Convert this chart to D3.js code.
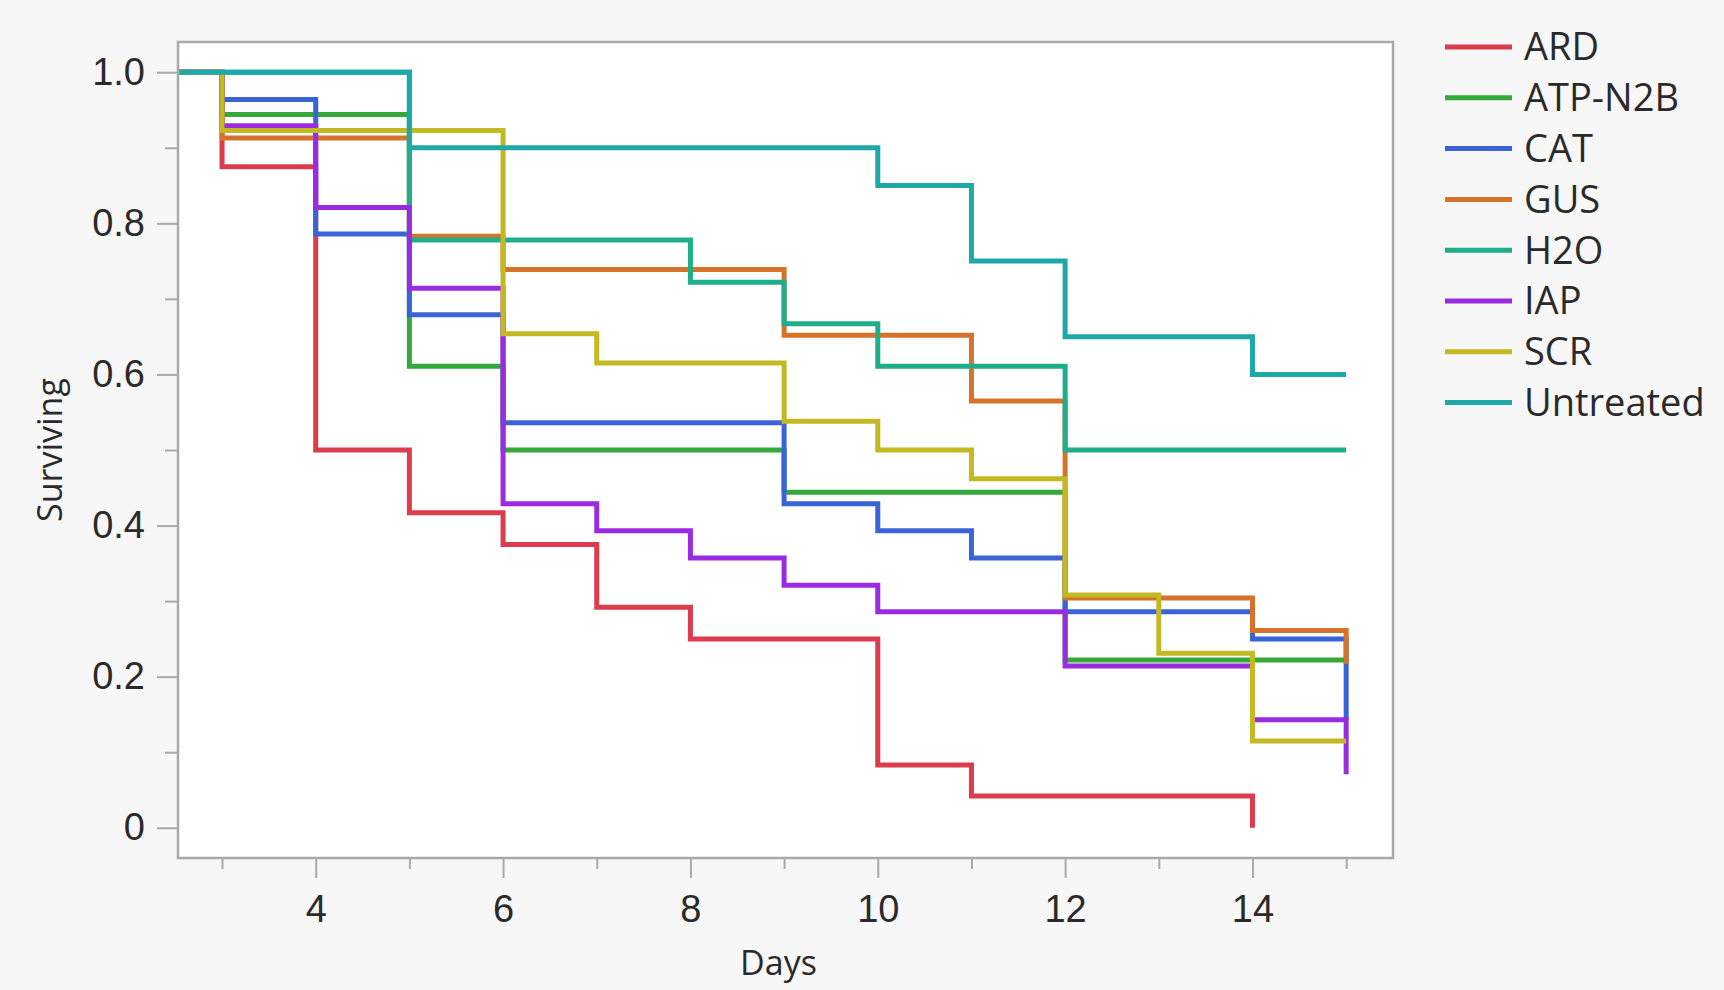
<!DOCTYPE html>
<html>
<head>
<meta charset="utf-8">
<script src="https://cdn.jsdelivr.net/npm/d3@7"></script>
<style>
  body { margin: 0; background: #f7f7f7; }
  svg { display: block; font-family: "Open Sans", "Noto Sans", sans-serif; }
</style>
</head>
<body>
<div id="chart"></div>
<script>
// survival groups, legend order
var groups = ["ARD", "ATP-N2B", "CAT", "GUS", "H2O", "IAP", "SCR", "Untreated"];
var colors = ["#dc3d4e", "#35a83a", "#3a63d8", "#d6732a", "#1eae8a", "#9a2be0", "#c2b923", "#1fa8a8"];

// [day, surviving] after each step
var ARD = [[3, 0.875], [4, 0.5], [5, 0.417], [6, 0.375], [7, 0.292], [8, 0.25], [10, 0.083], [11, 0.042], [14, 0]];
var ATP = [[3, 0.944], [5, 0.611], [6, 0.5], [9, 0.444], [12, 0.222], [15, 0.222]];
var CAT = [[3, 0.964], [4, 0.786], [5, 0.679], [6, 0.536], [9, 0.429], [10, 0.393], [11, 0.357], [12, 0.286], [14, 0.25], [15, 0.143]];
var GUS = [[3, 0.913], [5, 0.783], [6, 0.739], [9, 0.652], [11, 0.565], [12, 0.304], [14, 0.261], [15, 0.217]];
var H2O = [[5, 0.778], [8, 0.722], [9, 0.667], [10, 0.611], [12, 0.5], [15, 0.5]];
var IAP = [[3, 0.929], [4, 0.821], [5, 0.714], [6, 0.429], [7, 0.393], [8, 0.357], [9, 0.321], [10, 0.286], [12, 0.214], [14, 0.143], [15, 0.071]];
var SCR = [[3, 0.923], [6, 0.654], [7, 0.615], [9, 0.538], [10, 0.5], [11, 0.462], [12, 0.308], [13, 0.231], [14, 0.115], [15, 0.115]];
var UNT = [[5, 0.9], [10, 0.85], [11, 0.75], [12, 0.65], [14, 0.6], [15, 0.6]];
var series = [ARD, ATP, CAT, GUS, H2O, IAP, SCR, UNT];

var xMajor = [4, 6, 8, 10, 12, 14];
var xMinor = [3, 5, 7, 9, 11, 13, 15];
var yMajor = [0, 0.2, 0.4, 0.6, 0.8, 1.0];
var yMinor = [0.1, 0.3, 0.5, 0.7, 0.9];

function init() {
  var width = 1724, height = 990;
  var left = 178, right = 1393, top = 42, bottom = 858;

  var svg = d3.select("#chart").append("svg")
    .attr("width", width)
    .attr("height", height);

  var x = d3.scaleLinear().domain([2.53, 15.5]).range([left, right]);
  var y = d3.scaleLinear().domain([-0.04, 1.04]).range([bottom, top]);

  svg.append("rect")
    .attr("x", left).attr("y", top)
    .attr("width", right - left).attr("height", bottom - top)
    .attr("fill", "#fff");

  svg.append("clipPath").attr("id", "plotclip")
    .append("rect")
    .attr("x", left).attr("y", top)
    .attr("width", right - left).attr("height", bottom - top);

  var line = d3.line()
    .x(function(d) { return x(d[0]); })
    .y(function(d) { return y(d[1]); })
    .curve(d3.curveStepAfter);

  var plot = svg.append("g").attr("clip-path", "url(#plotclip)");
  series.forEach(function(s, i) {
    plot.append("path")
      .attr("d", line([[0, 1]].concat(s)))
      .attr("fill", "none")
      .attr("stroke", colors[i])
      .attr("stroke-width", 5)
      .attr("stroke-linejoin", "miter");
  });

  // axes
  var axisColor = "#a9a9a9";
  svg.append("g").attr("transform", "translate(0," + bottom + ")")
    .call(d3.axisBottom(x).tickValues(xMajor).tickSize(20).tickPadding(17).tickFormat(d3.format("d")));
  svg.append("g").attr("transform", "translate(0," + bottom + ")")
    .call(d3.axisBottom(x).tickValues(xMinor).tickSize(11).tickFormat(""));
  svg.append("g").attr("transform", "translate(" + left + ",0)")
    .call(d3.axisLeft(y).tickValues(yMajor).tickSize(21).tickPadding(12)
      .tickFormat(function(d) { return d === 0 ? "0" : d3.format(".1f")(d); }));
  svg.append("g").attr("transform", "translate(" + left + ",0)")
    .call(d3.axisLeft(y).tickValues(yMinor).tickSize(13).tickFormat(""));

  svg.selectAll(".domain").remove();
  svg.selectAll(".tick line").attr("stroke", axisColor).attr("stroke-width", 2);
  svg.selectAll(".tick text").attr("fill", "#2a2a2a").style("font-size", "38px");

  svg.append("rect")
    .attr("x", left).attr("y", top)
    .attr("width", right - left).attr("height", bottom - top)
    .attr("fill", "none")
    .attr("stroke", axisColor)
    .attr("stroke-width", 2.5);

  svg.append("text")
    .attr("x", (left + right) / 2 - 7).attr("y", 975)
    .attr("text-anchor", "middle")
    .attr("fill", "#2a2a2a")
    .style("font-size", "34px")
    .text("Days");

  svg.append("text")
    .attr("transform", "translate(62," + ((top + bottom) / 2) + ") rotate(-90)")
    .attr("text-anchor", "middle")
    .attr("fill", "#2a2a2a")
    .style("font-size", "34px")
    .text("Surviving");

  // legend
  var legend = svg.append("g");
  groups.forEach(function(g, i) {
    var ly = 47 + i * 50.8;
    legend.append("line")
      .attr("x1", 1445).attr("x2", 1512)
      .attr("y1", ly).attr("y2", ly)
      .attr("stroke", colors[i])
      .attr("stroke-width", 5);
    legend.append("text")
      .attr("x", 1524).attr("y", ly)
      .attr("dy", "0.35em")
      .attr("fill", "#2a2a2a")
      .style("font-size", "38px")
      .text(g);
  });
}

window.onload = init;
</script>
</body>
</html>
